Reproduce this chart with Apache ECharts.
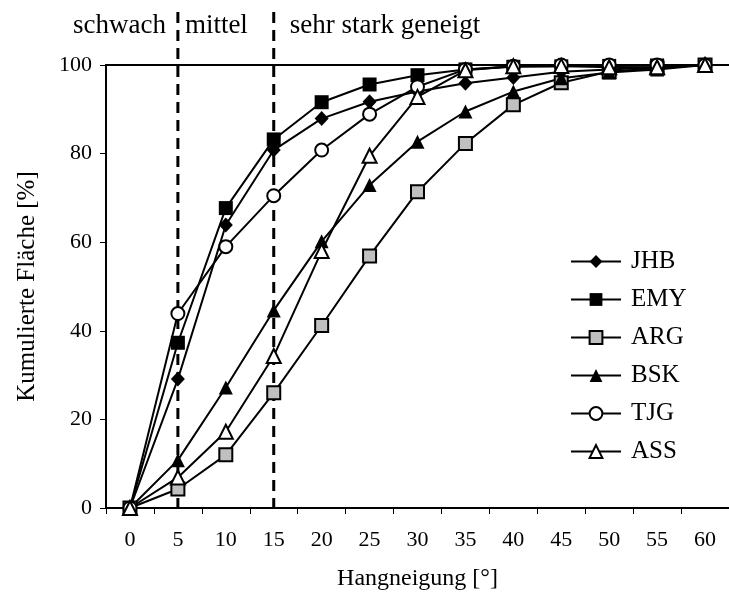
<!DOCTYPE html>
<html>
<head>
<meta charset="utf-8">
<script src="https://cdn.jsdelivr.net/npm/echarts@6/dist/echarts.min.js"></script>
<style>
  html, body { margin: 0; padding: 0; background: #ffffff; }
  #chart { width: 729px; height: 604px; }
</style>
</head>
<body>
<div id="chart"></div>
<script>
// Slope classes in degrees (category axis)
const slopeClasses = ['0', '5', '10', '15', '20', '25', '30', '35', '40', '45', '50', '55', '60'];

// Cumulative area share [%] per slope class for each site
const JHB = [0, 29.1, 63.9, 80.8, 87.9, 91.7, 94.0, 95.9, 97.2, 98.5, 99.0, 99.5, 100];
const EMY = [0, 37.3, 67.7, 83.2, 91.6, 95.6, 97.7, 99.0, 99.6, 99.7, 99.8, 99.9, 100];
const ARG = [0, 4.3, 12.0, 26.0, 41.2, 56.9, 71.4, 82.3, 91.0, 96.0, 98.5, 99.3, 100];
const BSK = [0, 10.8, 27.2, 44.6, 60.2, 72.9, 82.7, 89.5, 94.0, 97.0, 98.3, 99.0, 100];
const TJG = [0, 43.9, 59.0, 70.5, 80.8, 88.9, 95.1, 99.0, 99.7, 100, 100, 100, 100];
const ASS = [0, 6.9, 17.2, 34.3, 58.0, 79.5, 92.8, 98.8, 99.7, 99.8, 99.5, 99.5, 100];

// Y-axis tick values
const yTicks = [0, 20, 40, 60, 80, 100];

// Class boundaries (dashed) and the class names written above the plot
const classBounds = ['5', '15'];
const classNames = ['schwach', 'mittel', 'sehr stark geneigt'];

const FONT = 'Liberation Serif, Times New Roman, serif';

const chart = echarts.init(document.getElementById('chart'), null, { renderer: 'canvas' });

function lineSeries(name, data, symbol, size, fill) {
  return {
    name: name,
    type: 'line',
    data: data,
    symbol: symbol,
    symbolSize: size,
    showAllSymbol: true,
    animation: false,
    lineStyle: { color: '#000', width: 2 },
    itemStyle: {
      color: fill,
      borderColor: '#000',
      borderWidth: (fill === '#000') ? 0 : 2
    },
    emphasis: { disabled: true }
  };
}

const option = {
  animation: false,
  backgroundColor: '#ffffff',
  textStyle: { fontFamily: FONT, color: '#000' },
  grid: { left: 106, top: 65, width: 634, height: 443, containLabel: false },
  legend: {
    orient: 'vertical',
    left: 565,
    top: 243,
    itemWidth: 50,
    itemHeight: 16,
    itemGap: 11,
    textStyle: { fontFamily: FONT, fontSize: 25, color: '#000', lineHeight: 27, padding: [0, 0, 0, 5] },
    data: ['JHB', 'EMY', 'ARG', 'BSK', 'TJG', 'ASS']
  },
  xAxis: [
    {
      type: 'category',
      data: slopeClasses,
      boundaryGap: true,
      name: 'Hangneigung [°]',
      nameLocation: 'middle',
      nameGap: 59,
      nameTextStyle: { fontFamily: FONT, fontSize: 24, color: '#000' },
      axisLine: { lineStyle: { color: '#000', width: 2 } },
      axisTick: { show: true, length: 6, lineStyle: { color: '#000', width: 1 } },
      axisLabel: { fontFamily: FONT, fontSize: 22, color: '#000', margin: 21 },
      splitLine: { show: false }
    },
    {
      type: 'category',
      data: slopeClasses,
      position: 'top',
      axisLine: { lineStyle: { color: '#000', width: 2 } },
      axisTick: { show: false },
      axisLabel: { show: false },
      splitLine: { show: false }
    }
  ],
  yAxis: {
    type: 'value',
    min: 0,
    max: 100,
    interval: 20,
    name: 'Kumulierte Fläche [%]',
    nameLocation: 'middle',
    nameGap: 66,
    nameTextStyle: { fontFamily: FONT, fontSize: 25, color: '#000' },
    axisLine: { show: true, lineStyle: { color: '#000', width: 2 } },
    axisTick: { show: true, length: 6, lineStyle: { color: '#000', width: 1 } },
    axisLabel: {
      fontFamily: FONT, fontSize: 22, color: '#000', margin: 14,
      formatter: function (v) { return yTicks.indexOf(v) >= 0 ? String(v) : ''; }
    },
    splitLine: { show: false }
  },
  series: [
    lineSeries('JHB', JHB, 'diamond', [14, 15], '#000'),
    lineSeries('EMY', EMY, 'rect', 14, '#000'),
    lineSeries('ARG', ARG, 'rect', 13, '#c0c0c0'),
    lineSeries('BSK', BSK, 'triangle', 14, '#000'),
    lineSeries('TJG', TJG, 'circle', 13, '#ffffff'),
    lineSeries('ASS', ASS, 'triangle', 14, '#ffffff')
  ]
};

chart.setOption(option);

// Dashed class boundaries and class names, positioned from the axis scales
const yBase = chart.convertToPixel({ yAxisIndex: 0 }, 0);
const bx = classBounds.map(function (c) { return chart.convertToPixel({ xAxisIndex: 0 }, c); });
const topY = 12;
const labelY = 26;
const labelStyle = { fontFamily: FONT, fontSize: 27, fill: '#000', verticalAlign: 'middle' };

chart.setOption({
  graphic: [
    {
      type: 'line', silent: true, z: 1,
      shape: { x1: bx[0], y1: topY, x2: bx[0], y2: yBase },
      style: { stroke: '#000', lineWidth: 3, lineDash: [11, 7] }
    },
    {
      type: 'line', silent: true, z: 1,
      shape: { x1: bx[1], y1: topY, x2: bx[1], y2: yBase },
      style: { stroke: '#000', lineWidth: 3, lineDash: [11, 7] }
    },
    {
      type: 'text', silent: true, x: bx[0] - 12, y: labelY,
      style: Object.assign({ text: classNames[0], align: 'right' }, labelStyle)
    },
    {
      type: 'text', silent: true, x: bx[0] + 7, y: labelY,
      style: Object.assign({ text: classNames[1], align: 'left' }, labelStyle)
    },
    {
      type: 'text', silent: true, x: bx[1] + 16, y: labelY,
      style: Object.assign({ text: classNames[2], align: 'left' }, labelStyle)
    }
  ]
});
</script>
</body>
</html>
